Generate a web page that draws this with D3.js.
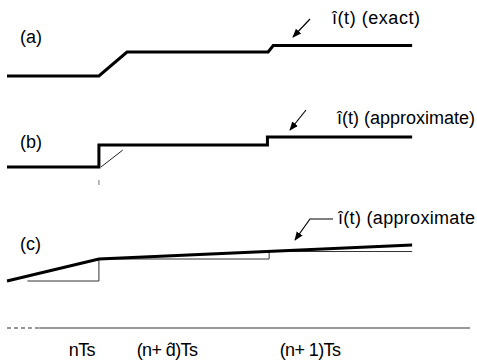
<!DOCTYPE html>
<html><head><meta charset="utf-8">
<script src="https://cdn.jsdelivr.net/npm/d3@7"></script>
<style>
html,body{margin:0;padding:0;background:#fff;}
svg{display:block;font-family:"Liberation Sans",Arial,sans-serif;}
</style></head>
<body><svg id="c" width="477" height="363"></svg>
<script>
// ---- data (time in units of Ts, t=0 at nTs) ----
const tStart = -0.54, tEnd = 1.84, tAxisEnd = 2.18;
const dHat = 0.165;
// (a) exact waveform
const aT = [tStart, 0, dHat, 0.994, 1.024, tEnd];
const aV = [0, 0, 1, 1, 1.27, 1.27];
// (b) approximate (step) waveform
const bT = [tStart, 0, 0, 0.99, 0.99, tEnd];
const bV = [0, 0, 1, 1, 1.36, 1.36];
const bThinT = [0.012, 0.14];
const bThinV = [0, 0.77];
// (c) approximate (averaged) waveform
const cT = [tStart, 0, tEnd];
const cV = [0, 1, 1.64];
const cHoldT = [-0.42, 0, 0, 1, 1, tEnd];
const cHoldV = [0, 0, 1, 1, 1.34, 1.34];
// axis labels
const tickPos = [-0.1, 0.4, 1.24];
const tickLabels = ["nTs", "(n+ d\u0302)Ts", "(n+ 1)Ts"];
const panelLabels = ["(a)", "(b)", "(c)"];
const annotText = ["\u00ee(t) (exact)", "\u00ee(t) (approximate)", "\u00ee(t) (approximate"];

const svg = d3.select("#c");
const x = d3.scaleLinear().domain([tStart, tAxisEnd]).range([7, 470]);
const yA = d3.scaleLinear().domain([0, 1]).range([76, 52]);
const yB = d3.scaleLinear().domain([0, 1]).range([167, 145]);
const yC = d3.scaleLinear().domain([0, 1]).range([281, 259]);

function pts(T, V){ return T.map((t,i)=>[t, V[i]]); }
function drawLine(T, V, y, w, col){
  const line = d3.line().x(d=>x(d[0])).y(d=>y(d[1]));
  svg.append("path").attr("d", line(pts(T,V))).attr("fill","none")
    .attr("stroke", col).attr("stroke-width", w).attr("stroke-linejoin","miter");
}

// thin helper lines first
drawLine(bThinT, bThinV, yB, 1, "#222");
drawLine(cHoldT, cHoldV, yC, 1, "#333");
// thick waveforms
drawLine(aT, aV, yA, 3, "#000");
drawLine(bT, bV, yB, 3, "#000");
drawLine(cT, cV, yC, 3, "#000");

// small tick under (b) switching instant
svg.append("line").attr("x1", x(0)).attr("x2", x(0)).attr("y1", 180).attr("y2", 185)
  .attr("stroke","#777").attr("stroke-width",1);

// panel labels
const labelY = [43, 148, 250];
panelLabels.forEach((s,i)=>{
  svg.append("text").attr("x", 20).attr("y", labelY[i]).attr("font-size", 18).text(s);
});

// arrowhead marker
svg.append("defs").append("marker").attr("id","ah").attr("viewBox","0 0 10 10")
  .attr("refX", 9).attr("refY", 5).attr("markerWidth", 9).attr("markerHeight", 9)
  .attr("markerUnits","userSpaceOnUse").attr("orient","auto")
  .append("path").attr("d","M0,1 L10,5 L0,9 Z").attr("fill","#000");

const arrows = [
  [[310,19],[293,37]],
  [[306,110],[290,130]],
  [[333,219],[310,219],[295,240]]
];
arrows.forEach(a=>{
  svg.append("path").attr("d", d3.line()(a)).attr("fill","none")
    .attr("stroke","#000").attr("stroke-width",1.2).attr("marker-end","url(#ah)");
});

// annotation texts
const annX = [332, 337, 338], annY = [24, 124, 224], annW = [88, 138, 137];
annotText.forEach((s,i)=>{
  svg.append("text").attr("x", annX[i]).attr("y", annY[i]).attr("font-size", 18)
    .attr("textLength", annW[i]).attr("lengthAdjust","spacing").text(s);
});

// bottom axis line
const ax = svg.append("g");
ax.append("line").attr("x1", x(tStart)).attr("x2", x(-0.35)).attr("y1",328).attr("y2",328)
  .attr("stroke","#333").attr("stroke-width",1.2).attr("stroke-dasharray","4,3");
ax.append("line").attr("x1", x(-0.35)).attr("x2", x(tAxisEnd)).attr("y1",328).attr("y2",328)
  .attr("stroke","#333").attr("stroke-width",1.2);

// tick labels
const tl = svg.append("g").attr("font-size", 18).attr("text-anchor","middle");
tickPos.forEach((t,i)=>{
  tl.append("text").attr("x", x(t)).attr("y", 356).attr("letter-spacing", -0.6).text(tickLabels[i]);
});
</script>
</body></html>
